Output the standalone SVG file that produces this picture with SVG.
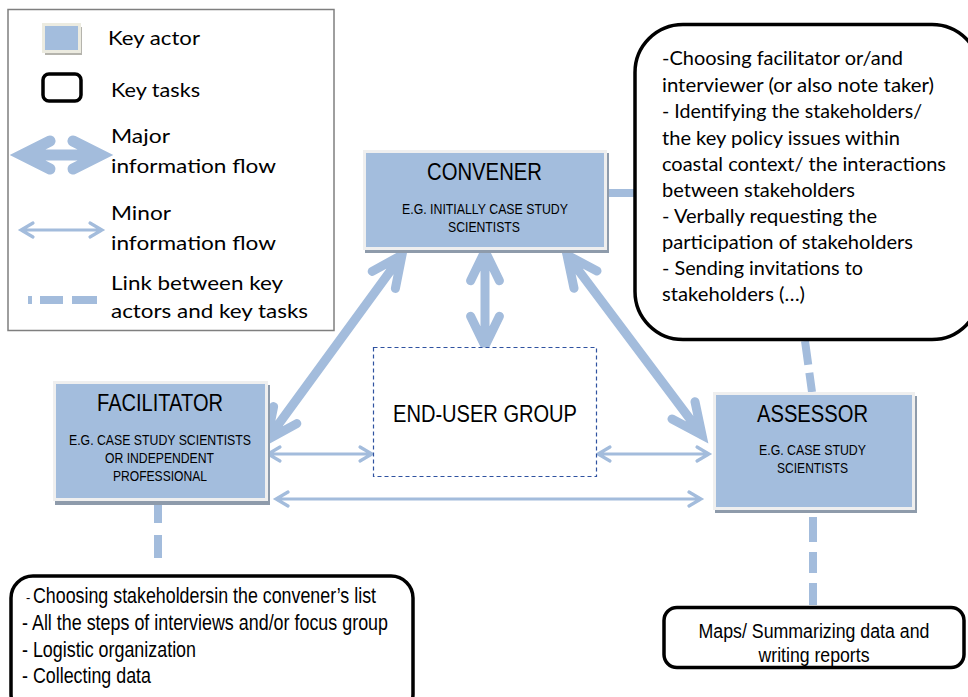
<svg xmlns="http://www.w3.org/2000/svg" width="968" height="697" viewBox="0 0 968 697">
<style>
.actor{fill:#a3bddd;stroke:#efefef;stroke-width:3}
.shadow{fill:#8e9bab}
.task{fill:#ffffff;stroke:#000000;stroke-width:3.5}
.major{fill:none;stroke:#a3bcdc;stroke-width:9;stroke-linecap:round;stroke-linejoin:miter;stroke-miterlimit:10}
.minor{fill:none;stroke:#a3bcdc;stroke-width:3.2;stroke-linecap:round;stroke-linejoin:miter}
.link{fill:none;stroke:#a3bcdc;stroke-width:8}
.cal{font-family:Lato,"Open Sans","Liberation Sans",sans-serif;font-size:20px;fill:#000}
.nar{font-family:"Liberation Sans",Arial,sans-serif;fill:#000}
.title{font-size:23.5px;text-anchor:middle}
.sub{font-size:15px;text-anchor:middle}
.body{font-size:22.5px}
</style>

<g id="legend">
  <rect x="8" y="9.5" width="326" height="321" fill="#ffffff" stroke="#7f7f7f" stroke-width="1.5"/>
  <rect x="45" y="27" width="37" height="28" fill="#b5b4ad"/>
  <rect x="43.5" y="24.5" width="36" height="27" fill="#a3bddd" stroke="#ecebe0" stroke-width="3"/>
  <text class="cal" x="108" y="45" textLength="92" lengthAdjust="spacingAndGlyphs">Key actor</text>
  <rect x="43" y="74" width="38" height="27" rx="6" class="task"/>
  <text class="cal" x="111" y="97" textLength="89" lengthAdjust="spacingAndGlyphs">Key tasks</text>
  <path class="major" d="M25 155 L98 155 M50 141 L22 155 L50 169 M73 141 L101 155 L73 169" style="stroke-width:11"/>
  <text class="cal" x="111" y="143" textLength="59" lengthAdjust="spacingAndGlyphs">Major</text>
  <text class="cal" x="111" y="173" textLength="165" lengthAdjust="spacingAndGlyphs">information flow</text>
  <path class="minor" d="M21 230 L102 230 M33 223 L21 230 L33 237 M90 223 L102 230 L90 237"/>
  <text class="cal" x="111" y="220" textLength="60" lengthAdjust="spacingAndGlyphs">Minor</text>
  <text class="cal" x="111" y="250" textLength="165" lengthAdjust="spacingAndGlyphs">information flow</text>
  <path class="link" d="M28 300 L97 300" stroke-dasharray="4 8 23 9 25"/>
  <text class="cal" x="111" y="290" textLength="172" lengthAdjust="spacingAndGlyphs">Link between key</text>
  <text class="cal" x="111" y="318" textLength="197" lengthAdjust="spacingAndGlyphs">actors and key tasks</text>
</g>

<g id="connectors">
  <path class="major" d="M402 255 L267 440 M372.2 271.4 L402 255 L395.4 288.4 M296.8 423.6 L267 440 L273.6 406.6"/>
  <path class="major" d="M567 255 L702 435 M574 288.3 L567 255 L597 271 M672 419 L702 435 L695 401.7"/>
  <path class="major" d="M485 252 L485 345 M470.6 280.8 L485 251 L499.4 280.8 M470.6 316.2 L485 346 L499.4 316.2"/>
  <path class="minor" d="M268 454 L372 454 M280 447 L268 454 L280 461 M360 447 L372 454 L360 461"/>
  <path class="minor" d="M598 454 L709 454 M610 447 L598 454 L610 461 M697 447 L709 454 L697 461"/>
  <path class="minor" d="M276 499 L701 499 M288 492 L276 499 L288 506 M689 492 L701 499 L689 506"/>
  <path class="link" d="M609 193 L634 193"/>
  <path class="link" d="M805 341 L812 392" stroke-dasharray="24 8"/>
  <path class="link" d="M158 500 L158 570" stroke-dasharray="23 12"/>
  <path class="link" d="M813 506 L813 605" stroke-dasharray="3 8 25 10 21 10 22"/>
</g>

<g id="convener">
  <rect x="365" y="153" width="244" height="100" class="shadow"/>
  <rect x="364.5" y="151.5" width="241" height="97" class="actor"/>
  <text class="nar title" x="484.5" y="180" textLength="115" lengthAdjust="spacingAndGlyphs">CONVENER</text>
  <text class="nar sub" x="485" y="214" textLength="166" lengthAdjust="spacingAndGlyphs">E.G. INITIALLY CASE STUDY</text>
  <text class="nar sub" x="484" y="232" textLength="72" lengthAdjust="spacingAndGlyphs">SCIENTISTS</text>
</g>

<g id="end-user-group">
  <rect x="373.5" y="347.5" width="223" height="129" fill="#ffffff" stroke="#2f52a0" stroke-width="1.2" stroke-dasharray="4 3"/>
  <text class="nar title" x="485" y="422" textLength="184" lengthAdjust="spacingAndGlyphs">END-USER GROUP</text>
</g>

<g id="facilitator">
  <rect x="55" y="385" width="215" height="120" class="shadow"/>
  <rect x="54.5" y="382.5" width="212" height="117" class="actor"/>
  <text class="nar title" x="160" y="411" textLength="126" lengthAdjust="spacingAndGlyphs">FACILITATOR</text>
  <text class="nar sub" x="160" y="445" textLength="182" lengthAdjust="spacingAndGlyphs">E.G. CASE STUDY SCIENTISTS</text>
  <text class="nar sub" x="159.5" y="463" textLength="109" lengthAdjust="spacingAndGlyphs">OR INDEPENDENT</text>
  <text class="nar sub" x="160" y="481" textLength="94" lengthAdjust="spacingAndGlyphs">PROFESSIONAL</text>
</g>

<g id="assessor">
  <rect x="715" y="396" width="202" height="117" class="shadow"/>
  <rect x="714.5" y="393.5" width="199" height="115" class="actor"/>
  <text class="nar title" x="812.5" y="422" textLength="111" lengthAdjust="spacingAndGlyphs">ASSESSOR</text>
  <text class="nar sub" x="812.5" y="455" textLength="107" lengthAdjust="spacingAndGlyphs">E.G. CASE STUDY</text>
  <text class="nar sub" x="812.5" y="473" textLength="71" lengthAdjust="spacingAndGlyphs">SCIENTISTS</text>
</g>

<g id="convener-tasks">
  <rect x="635" y="24.5" width="345" height="315" rx="48" class="task"/>
  <text class="cal" x="662" y="65" textLength="241" lengthAdjust="spacingAndGlyphs">-Choosing facilitator or/and</text>
  <text class="cal" x="662" y="92" textLength="272" lengthAdjust="spacingAndGlyphs">interviewer (or also note taker)</text>
  <text class="cal" x="662" y="118" textLength="260" lengthAdjust="spacingAndGlyphs">- Identifying the stakeholders/</text>
  <text class="cal" x="662" y="145" textLength="238" lengthAdjust="spacingAndGlyphs">the key policy issues within</text>
  <text class="cal" x="662" y="171" textLength="284" lengthAdjust="spacingAndGlyphs">coastal context/ the interactions</text>
  <text class="cal" x="662" y="197" textLength="193" lengthAdjust="spacingAndGlyphs">between stakeholders</text>
  <text class="cal" x="662" y="223" textLength="215" lengthAdjust="spacingAndGlyphs">- Verbally requesting the</text>
  <text class="cal" x="662" y="249" textLength="251" lengthAdjust="spacingAndGlyphs">participation of stakeholders</text>
  <text class="cal" x="662" y="275" textLength="201" lengthAdjust="spacingAndGlyphs">- Sending invitations to</text>
  <text class="cal" x="662" y="301" textLength="143" lengthAdjust="spacingAndGlyphs">stakeholders (…)</text>
</g>

<g id="facilitator-tasks">
  <rect x="11" y="576" width="402" height="140" rx="22" class="task"/>
  <text class="nar" x="26" y="602" font-size="13">-</text>
  <text class="nar body" x="33" y="603" textLength="343" lengthAdjust="spacingAndGlyphs">Choosing stakeholdersin the convener’s list</text>
  <text class="nar body" x="22" y="630" textLength="366" lengthAdjust="spacingAndGlyphs">- All the steps of interviews and/or focus group</text>
  <text class="nar body" x="22" y="657" textLength="174" lengthAdjust="spacingAndGlyphs">- Logistic organization</text>
  <text class="nar body" x="22" y="683" textLength="129" lengthAdjust="spacingAndGlyphs">- Collecting data</text>
</g>

<g id="assessor-tasks">
  <rect x="664" y="607.5" width="300" height="60" rx="13" class="task"/>
  <text class="nar" x="814" y="638" font-size="20" text-anchor="middle" textLength="231" lengthAdjust="spacingAndGlyphs">Maps/ Summarizing data and</text>
  <text class="nar" x="814" y="662" font-size="20" text-anchor="middle" textLength="111" lengthAdjust="spacingAndGlyphs">writing reports</text>
</g>
</svg>
